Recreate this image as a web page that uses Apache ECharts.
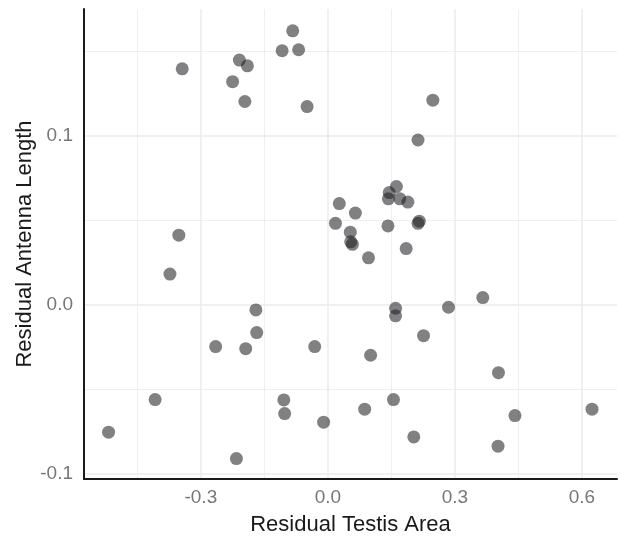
<!DOCTYPE html>
<html>
<head>
<meta charset="utf-8">
<script src="https://cdn.jsdelivr.net/npm/echarts@6/dist/echarts.min.js"></script>
<style>
  html, body { margin: 0; padding: 0; background: #ffffff; }
  #main { width: 621px; height: 536px; }
</style>
</head>
<body>
<div id="main"></div>
<script>
// residual testis area (x) vs residual antenna length (y)
var testisArea = [
  -0.083, -0.108, -0.069, -0.344, -0.209, -0.190, -0.225, -0.196, -0.049, 0.248,
  0.213, 0.162, 0.145, 0.143, 0.170, 0.189, 0.027, 0.065, 0.018, 0.142,
  0.216, 0.213, 0.053, 0.054, 0.058, 0.185, -0.352, -0.373, 0.096, 0.366,
  0.285, 0.160, 0.160, -0.170, -0.168, 0.226, -0.265, -0.194, -0.031, 0.101,
  0.403, -0.408, -0.104, 0.155, -0.102, 0.087, 0.442, 0.624, -0.010, -0.518,
  0.203, 0.402, -0.216
];
var antennaLength = [
  0.1621, 0.1503, 0.1509, 0.1396, 0.1448, 0.1414, 0.1320, 0.1203, 0.1173, 0.1211,
  0.0975, 0.0700, 0.0664, 0.0627, 0.0627, 0.0608, 0.0599, 0.0543, 0.0482, 0.0467,
  0.0495, 0.0482, 0.0430, 0.0373, 0.0358, 0.0333, 0.0412, 0.0182, 0.0278, 0.0043,
  -0.0014, -0.0020, -0.0065, -0.0030, -0.0164, -0.0182, -0.0247, -0.0259, -0.0247, -0.0298,
  -0.0401, -0.0560, -0.0562, -0.0560, -0.0643, -0.0617, -0.0655, -0.0617, -0.0694, -0.0753,
  -0.0781, -0.0836, -0.0909
];

var xMajor = [-0.3, 0.0, 0.3, 0.6];
var xMinor = [-0.45, -0.15, 0.15, 0.45];
var yMajor = [-0.1, 0.0, 0.1];
var yMinor = [-0.05, 0.05, 0.15];

var points = testisArea.map(function (x, i) { return [x, antennaLength[i]]; });

var chartDom = document.getElementById('main');
var myChart = echarts.init(chartDom);
var font = 'Liberation Sans, Arial, sans-serif';

function fmt(v) { return v.toFixed(1); }

function makeAxis(pos, major, min, max, extra) {
    var ax = {
        type: 'value',
        position: pos,
        min: min,
        max: max,
        axisLine: { show: false },
        axisTick: { show: false, customValues: major },
        axisLabel: { show: false },
        splitLine: { show: true, lineStyle: { color: '#ebebeb', width: 0.8 } }
    };
    return Object.assign(ax, extra || {});
}

var option = {
    animation: false,
    grid: { left: 84, right: 4, top: 9, bottom: 57, containLabel: false, outerBoundsMode: 'none' },
    xAxis: [
        makeAxis('bottom', xMinor, -0.576, 0.683),
        makeAxis('bottom', xMajor, -0.576, 0.683, {
            name: 'Residual Testis Area',
            nameLocation: 'middle',
            nameGap: 35,
            nameMoveOverlap: false,
            nameTextStyle: { fontFamily: font, fontSize: 22, color: '#1a1a1a' },
            axisLine: { show: true, onZero: false, lineStyle: { color: '#1a1a1a', width: 2 } },
            axisLabel: { show: true, customValues: xMajor, formatter: fmt, margin: 9,
                fontFamily: font, fontSize: 19, color: '#777777' },
            splitLine: { show: true, lineStyle: { color: '#ebebeb', width: 1.5 } }
        })
    ],
    yAxis: [
        makeAxis('left', yMinor, -0.103, 0.175),
        makeAxis('left', yMajor, -0.103, 0.175, {
            name: 'Residual Antenna Length',
            nameLocation: 'middle',
            nameGap: 48,
            nameMoveOverlap: false,
            nameTextStyle: { fontFamily: font, fontSize: 22, color: '#1a1a1a' },
            axisLine: { show: true, onZero: false, lineStyle: { color: '#1a1a1a', width: 2 } },
            axisLabel: { show: true, customValues: yMajor, formatter: fmt, margin: 11,
                fontFamily: font, fontSize: 19, color: '#777777' },
            splitLine: { show: true, lineStyle: { color: '#ebebeb', width: 1.5 } }
        })
    ],
    series: [
        {
            type: 'scatter',
            xAxisIndex: 1,
            yAxisIndex: 1,
            symbolSize: 13,
            itemStyle: { color: 'rgba(30,30,35,0.7)' },
            data: points
        }
    ]
};

option && myChart.setOption(option);
</script>
</body>
</html>
